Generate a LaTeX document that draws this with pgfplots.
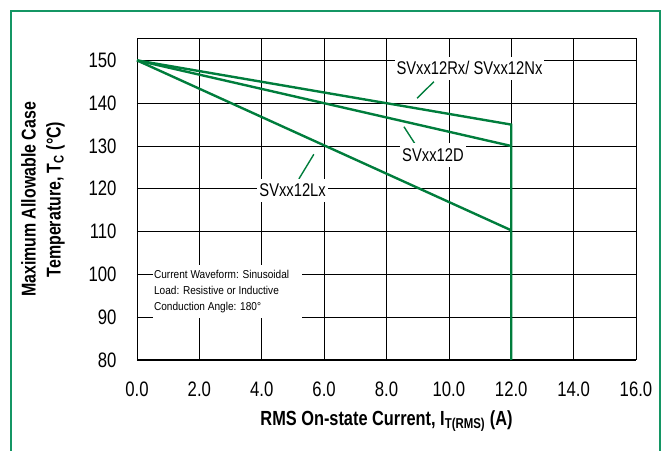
\documentclass[border=0pt]{standalone}
\usepackage{pgfplots}
\pgfplotsset{compat=1.18}
\usepackage{fontspec}
\setmainfont{Liberation Sans}[FakeStretch=0.8]
\newfontfamily\annfont{Liberation Sans}[FakeStretch=0.88]
\definecolor{curve}{RGB}{0,125,60}
\definecolor{frame}{RGB}{20,150,100}
\begin{document}
\begin{tikzpicture}[x=1bp,y=1bp]
\useasboundingbox (-137,-91) rectangle (525,360);
\draw[frame, line width=1.2pt] (-126,-95) -- (-126,349) -- (523,349) -- (523,-95);
\begin{axis}[
  at={(0,0)}, anchor=south west,
  scale only axis,
  width=499bp, height=321bp,
  xmin=0, xmax=16, ymin=80, ymax=155,
  xtick={0,2,...,16},
  ytick={80,90,...,150},
  grid=major,
  major grid style={black, line width=0.7pt},
  axis line style={black, line width=1pt},
  tick style={draw=none},
  xticklabel={\pgfmathprintnumber[fixed,fixed zerofill,precision=1]{\tick}},
  /pgf/number format/assume math mode=true,
  ticklabel style={font=\fontsize{21}{23}\selectfont},
  xticklabel style={anchor=center, yshift=-29bp},
  yticklabel style={anchor=east, xshift=-17bp},
  xlabel={\textbf{RMS On-state Current, I\textsubscript{T(RMS)} (A)}},
  xlabel style={font=\fontsize{20.5}{23}\selectfont, at={(axis description cs:0.5,0)}, anchor=center, yshift=-61bp},
  ylabel={\textbf{Maximum Allowable Case}\\\textbf{Temperature, T\textsubscript{C} (\textdegree C)}},
  ylabel style={font=\fontsize{20}{25}\selectfont, align=center, at={(axis description cs:0,0.5)}, anchor=center, yshift=94bp},
  clip=false,
]
\addplot[curve, line width=2.4pt] coordinates {(0,150) (12,135) (12,80)};
\addplot[curve, line width=2.4pt] coordinates {(0,150) (12,130)};
\addplot[curve, line width=2.4pt] coordinates {(0,150) (12,110.3)};
% leaders
\draw[curve, line width=1.4pt] (axis cs:8.98,141.15) -- (axis cs:9.52,145.03);
\draw[curve, line width=1.4pt] (axis cs:8.56,134.5) -- (axis cs:8.94,130.2);
\draw[curve, line width=1.4pt] (axis cs:5.19,122.3) -- (axis cs:5.67,128.06);
% labels
\node[fill=white, inner xsep=2bp, inner ysep=5bp, font=\fontsize{18.5}{20}\selectfont] at (axis cs:10.66,148.15) {SVxx12Rx/ SVxx12Nx};
\node[fill=white, inner xsep=2bp, inner ysep=5bp, font=\fontsize{18.5}{20}\selectfont] at (axis cs:9.49,127.9) {SVxx12D};
\node[fill=white, inner xsep=2bp, inner ysep=5bp, font=\fontsize{18.5}{20}\selectfont] at (axis cs:4.99,119.6) {SVxx12Lx};
\node[fill=white, anchor=north west, align=flush left, inner xsep=1bp, inner ysep=5bp, text width=147bp, font=\annfont\fontsize{11.5}{16}\selectfont]
  at (axis cs:0.51,102.2) {Current Waveform: Sinusoidal\\Load: Resistive or Inductive\\Conduction Angle: 180\textdegree};
\end{axis}
\end{tikzpicture}
\end{document}
